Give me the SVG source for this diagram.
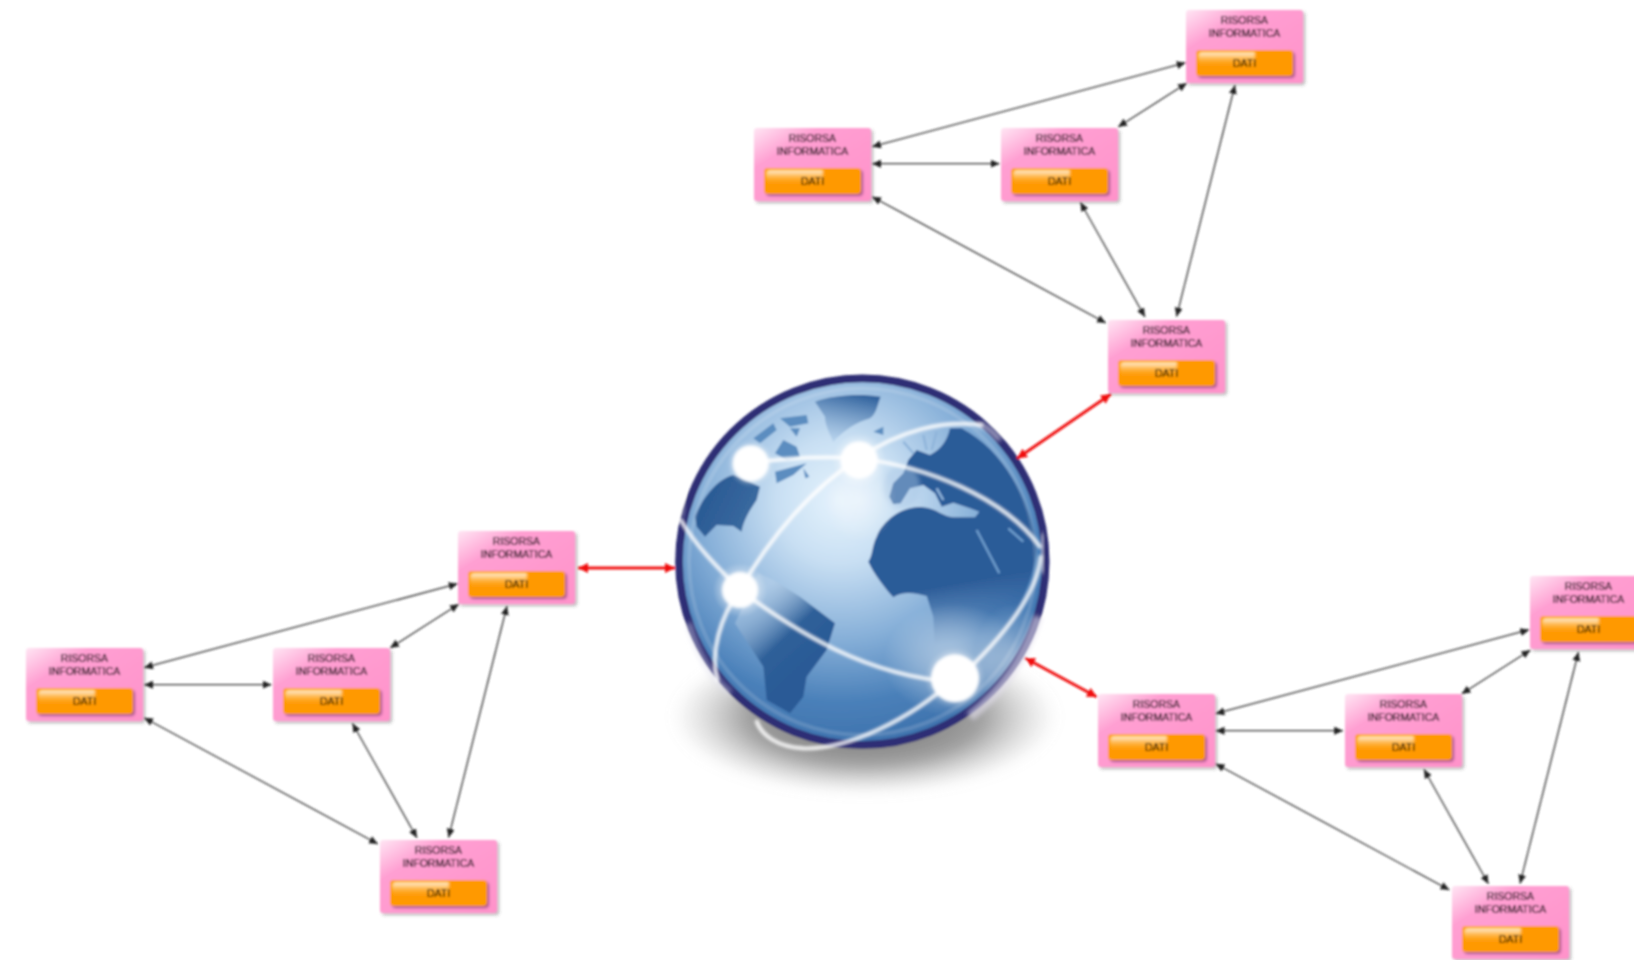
<svg xmlns="http://www.w3.org/2000/svg" width="1634" height="960" viewBox="0 0 1634 960">
<style>
.card{fill:url(#pink)}
.cardsh{fill:#555;opacity:.45;filter:url(#b2)}
.btn{fill:#ff9900}
.btnsh{fill:#6a2a5a;opacity:.55;filter:url(#b1)}
.gloss{fill:url(#glossg);filter:url(#b1)}
text{font-family:"Liberation Sans",Arial,sans-serif;font-size:10.5px;fill:#000;stroke:#000;stroke-width:.15;text-anchor:middle}
.c{stroke:#333;stroke-width:1.25;fill:none;marker-start:url(#ah);marker-end:url(#ah)}
.r{stroke:#f01010;stroke-width:3;fill:none;marker-start:url(#rh);marker-end:url(#rh)}
.link{fill:none;stroke:#fff;stroke-width:11;stroke-linecap:round;opacity:.93}
</style>
<defs>
<linearGradient id="pink" x1="0" y1="0" x2="1" y2="1"><stop offset="0" stop-color="#ffe6f4"/><stop offset=".28" stop-color="#ff9fd2"/><stop offset="1" stop-color="#ff92ca"/></linearGradient>
<linearGradient id="glossg" x1="0" y1="0" x2="0" y2="1"><stop offset="0" stop-color="#fff" stop-opacity=".9"/><stop offset="1" stop-color="#ff9900" stop-opacity=".1"/></linearGradient>
<radialGradient id="sea" gradientUnits="userSpaceOnUse" cx="540" cy="420" r="760"><stop offset="0" stop-color="#e6f3fd"/><stop offset=".25" stop-color="#c8dff3"/><stop offset=".55" stop-color="#86afd8"/><stop offset=".8" stop-color="#4a80b9"/><stop offset="1" stop-color="#3c70ab"/></radialGradient>
<linearGradient id="land" gradientUnits="userSpaceOnUse" x1="700" y1="300" x2="800" y2="860"><stop offset="0" stop-color="#2c5c98"/><stop offset=".7" stop-color="#2c5c98"/><stop offset="1" stop-color="#2c5c98" stop-opacity="0"/></linearGradient>
<linearGradient id="landNA" gradientUnits="userSpaceOnUse" x1="130" y1="420" x2="330" y2="520"><stop offset="0" stop-color="#2a5a94"/><stop offset=".65" stop-color="#39699f"/><stop offset="1" stop-color="#7ea9d5" stop-opacity=".3"/></linearGradient>
<linearGradient id="landGr" gradientUnits="userSpaceOnUse" x1="570" y1="100" x2="540" y2="240"><stop offset="0" stop-color="#34659f"/><stop offset="1" stop-color="#a4c4e4" stop-opacity=".6"/></linearGradient>
<linearGradient id="landSA" gradientUnits="userSpaceOnUse" x1="280" y1="720" x2="450" y2="900"><stop offset="0" stop-color="#c0d6ec" stop-opacity=".4"/><stop offset=".6" stop-color="#2f6099"/><stop offset="1" stop-color="#2a5a96"/></linearGradient>
<radialGradient id="shad" cx=".5" cy=".5" r=".5"><stop offset="0" stop-color="#666"/><stop offset=".6" stop-color="#a0a0a0"/><stop offset="1" stop-color="#c4c4c4" stop-opacity="0"/></radialGradient>
<radialGradient id="glow"><stop offset="0" stop-color="#fff" stop-opacity=".9"/><stop offset=".55" stop-color="#fff" stop-opacity=".45"/><stop offset="1" stop-color="#fff" stop-opacity="0"/></radialGradient>
<filter id="soft" filterUnits="userSpaceOnUse" x="0" y="0" width="1634" height="960"><feGaussianBlur stdDeviation="1"/></filter>
<filter id="b1" x="-20%" y="-30%" width="140%" height="160%"><feGaussianBlur stdDeviation="1"/></filter>
<filter id="b2" x="-20%" y="-30%" width="140%" height="160%"><feGaussianBlur stdDeviation="1.4"/></filter>
<filter id="b4" x="-30%" y="-30%" width="160%" height="160%"><feGaussianBlur stdDeviation="3.5"/></filter>
<filter id="b6" x="-30%" y="-30%" width="160%" height="160%"><feGaussianBlur stdDeviation="6"/></filter>
<filter id="b20" x="-30%" y="-50%" width="160%" height="200%"><feGaussianBlur stdDeviation="16"/></filter>
<clipPath id="ball"><circle cx="607" cy="605" r="548"/></clipPath>
<marker id="ah" markerUnits="userSpaceOnUse" markerWidth="11" markerHeight="9" refX="9" refY="4" orient="auto-start-reverse"><path d="M0,0L9,4L0,8z" fill="#222"/></marker>
<marker id="rh" markerUnits="userSpaceOnUse" markerWidth="12" markerHeight="12" refX="10" refY="5" orient="auto-start-reverse"><path d="M0,0L10,5L0,10z" fill="#f01010"/></marker>
</defs>
<rect width="1634" height="960" fill="#fff"/>
<g filter="url(#soft)">
<g id="globe" transform="translate(660,360) scale(.33333)">
<ellipse cx="615" cy="1070" rx="580" ry="235" fill="url(#shad)" filter="url(#b20)"/>
<circle cx="607" cy="605" r="548" fill="url(#sea)"/>
<g clip-path="url(#ball)">
<path fill="url(#land)" d="M1130,560C1112,420 1030,270 905,205L870,205C862,240 845,268 810,285L770,270L745,300L730,340L700,370L688,410L700,432L722,430L750,385L790,375L825,400L845,440L880,428L930,445L958,455L945,472L880,472C850,472 830,445 790,442C730,435 670,480 650,530C635,560 640,580 625,605C640,640 680,690 700,712C730,690 770,700 800,708L820,770L825,880L1000,880C1060,780 1125,660 1130,560Z"/>
<ellipse cx="725" cy="380" rx="55" ry="65" fill="#a8c6e4" opacity=".45" filter="url(#b6)"/>
<path d="M730,245L760,280M790,225L800,270M830,215L815,270M830,385L850,420" stroke="#8fb4da" stroke-width="7" fill="none"/>
<path d="M950,510L1018,640M1045,505L1090,545" stroke="#6d9dcc" stroke-width="7" fill="none"/>
<path fill="url(#landNA)" d="M105,470C125,420 165,360 220,345L300,380L290,420C270,450 250,480 245,515L220,498L170,495L135,530L110,500Z"/>
<path fill="url(#landGr)" d="M465,125C520,105 600,100 662,110C650,140 650,160 630,175C600,185 570,195 520,245C505,215 495,190 495,170Z"/>
<path fill="#5b8dc0" d="M345,280L370,240L410,260L420,290L380,300ZM360,175L440,165L445,190L390,200ZM390,205L420,205L410,230ZM345,335L440,310L400,345L350,370ZM430,325L448,350L436,355ZM640,215L670,200L670,225ZM280,235L340,190L350,210L300,250Z"/>
<path fill="url(#landSA)" d="M295,640L340,660L420,710L525,790L500,870L440,950L430,1010L390,1060L320,1020L310,920L225,790Z"/>
<ellipse cx="880" cy="900" rx="210" ry="170" fill="url(#glow)" opacity=".6"/>
<ellipse cx="1060" cy="900" rx="120" ry="170" fill="url(#glow)" opacity=".45"/>
<circle cx="607" cy="605" r="520" fill="none" stroke="#fff" stroke-width="12" opacity=".14"/>
</g>
<circle cx="607" cy="605" r="550" fill="none" stroke="#2f2f74" stroke-width="23"/>
<path d="M1135,770C1090,900 1030,990 930,1070" fill="none" stroke="#e4e0ee" stroke-width="30" opacity=".6" filter="url(#b6)"/>
<path d="M85,790C110,880 150,950 210,1000" fill="none" stroke="#e0e0ee" stroke-width="22" opacity=".4" filter="url(#b6)"/>
<path d="M62,330C82,340 72,400 62,470" fill="none" stroke="#fff" stroke-width="16" opacity=".4" filter="url(#b6)"/>
<path d="M950,195C990,200 1000,220 1020,240" fill="none" stroke="#fff" stroke-width="18" opacity=".5" filter="url(#b6)"/>
<path d="M1145,520L1150,640" fill="none" stroke="#e8eef6" stroke-width="20" opacity=".55" filter="url(#b6)"/>
<g class="links" filter="url(#b4)">
<path class="link" d="M272,310Q430,285 597,295"/>
<path class="link" d="M597,295C460,380 330,530 240,690"/>
<path class="link" d="M240,690C400,810 620,950 885,965"/>
<path class="link" d="M62,480C110,560 170,620 240,690"/>
<path class="link" d="M240,690C180,770 150,880 172,960"/>
<path class="link" d="M885,955C750,1080 560,1170 430,1165C350,1160 305,1125 290,1085" stroke-width="16"/>
<path class="link" d="M597,295C720,210 850,180 965,195"/>
<path class="link" d="M597,295C800,320 1030,410 1140,560"/>
<path class="link" d="M885,965C1000,860 1130,720 1142,590"/>
</g>
<ellipse cx="600" cy="420" rx="110" ry="130" fill="url(#glow)" opacity=".45"/>
<circle cx="272" cy="310" r="72" fill="url(#glow)"/><circle cx="272" cy="310" r="54" fill="#fff" filter="url(#b4)"/>
<circle cx="597" cy="300" r="82" fill="url(#glow)"/><circle cx="597" cy="300" r="56" fill="#fff" filter="url(#b4)"/>
<circle cx="240" cy="690" r="82" fill="url(#glow)"/><circle cx="240" cy="690" r="54" fill="#fff" filter="url(#b4)"/>
<circle cx="885" cy="955" r="92" fill="url(#glow)"/><circle cx="885" cy="955" r="72" fill="#fff" filter="url(#b4)"/>
</g>
<g id="connectors">
<line class="c" x1="872" y1="146.7" x2="1185.8" y2="62.7"/>
<line class="c" x1="872" y1="163.7" x2="999.7" y2="163.7"/>
<line class="c" x1="872" y1="196.7" x2="1106" y2="323"/>
<line class="c" x1="1118" y1="127" x2="1187" y2="83"/>
<line class="c" x1="1080.4" y1="202.3" x2="1145" y2="317"/>
<line class="c" x1="1235" y1="85" x2="1176.5" y2="316.7"/>
<line class="c" x1="144" y1="667.7" x2="457.8" y2="583.7"/>
<line class="c" x1="144" y1="684.7" x2="271.7" y2="684.7"/>
<line class="c" x1="144" y1="717.7" x2="378" y2="844"/>
<line class="c" x1="390" y1="648" x2="459" y2="604"/>
<line class="c" x1="352.4" y1="723.3" x2="417" y2="838"/>
<line class="c" x1="507" y1="606" x2="448.5" y2="837.7"/>
<line class="c" x1="1215.5" y1="713.7" x2="1529.3" y2="629.7"/>
<line class="c" x1="1215.5" y1="730.7" x2="1343.2" y2="730.7"/>
<line class="c" x1="1215.5" y1="763.7" x2="1449.5" y2="890"/>
<line class="c" x1="1461.5" y1="694" x2="1530.5" y2="650"/>
<line class="c" x1="1423.9" y1="769.3" x2="1488.5" y2="884"/>
<line class="c" x1="1578.5" y1="652" x2="1520" y2="883.7"/>
<line class="r" x1="1111" y1="394" x2="1017" y2="458.5"/>
<line class="r" x1="578" y1="568" x2="675" y2="568"/>
<line class="r" x1="1097" y1="697" x2="1025" y2="658"/>
</g>
<g id="n1" transform="translate(754,128)"><rect class="cardsh" x="2" y="2" width="117" height="73" rx="3"/><rect class="card" width="117" height="73" rx="3"/><rect class="btnsh" x="12" y="42" width="97" height="26" rx="4"/><rect class="btn" x="10" y="40" width="97" height="26" rx="4"/><path class="gloss" d="M16,42H69V57H16a4,4 0 0 1-4-4V46a4,4 0 0 1 4-4z"/><text x="58.5" y="14.3">RISORSA</text><text x="58.5" y="27.3">INFORMATICA</text><text x="58.5" y="56.5">DATI</text></g>
<g id="n2" transform="translate(1001,128)"><rect class="cardsh" x="2" y="2" width="117" height="73" rx="3"/><rect class="card" width="117" height="73" rx="3"/><rect class="btnsh" x="12" y="42" width="97" height="26" rx="4"/><rect class="btn" x="10" y="40" width="97" height="26" rx="4"/><path class="gloss" d="M16,42H69V57H16a4,4 0 0 1-4-4V46a4,4 0 0 1 4-4z"/><text x="58.5" y="14.3">RISORSA</text><text x="58.5" y="27.3">INFORMATICA</text><text x="58.5" y="56.5">DATI</text></g>
<g id="n3" transform="translate(1186,10)"><rect class="cardsh" x="2" y="2" width="117" height="73" rx="3"/><rect class="card" width="117" height="73" rx="3"/><rect class="btnsh" x="12" y="42" width="97" height="26" rx="4"/><rect class="btn" x="10" y="40" width="97" height="26" rx="4"/><path class="gloss" d="M16,42H69V57H16a4,4 0 0 1-4-4V46a4,4 0 0 1 4-4z"/><text x="58.5" y="14.3">RISORSA</text><text x="58.5" y="27.3">INFORMATICA</text><text x="58.5" y="56.5">DATI</text></g>
<g id="n4" transform="translate(1108,320)"><rect class="cardsh" x="2" y="2" width="117" height="73" rx="3"/><rect class="card" width="117" height="73" rx="3"/><rect class="btnsh" x="12" y="42" width="97" height="26" rx="4"/><rect class="btn" x="10" y="40" width="97" height="26" rx="4"/><path class="gloss" d="M16,42H69V57H16a4,4 0 0 1-4-4V46a4,4 0 0 1 4-4z"/><text x="58.5" y="14.3">RISORSA</text><text x="58.5" y="27.3">INFORMATICA</text><text x="58.5" y="56.5">DATI</text></g>
<g id="n5" transform="translate(26,648)"><rect class="cardsh" x="2" y="2" width="117" height="73" rx="3"/><rect class="card" width="117" height="73" rx="3"/><rect class="btnsh" x="12" y="42" width="97" height="26" rx="4"/><rect class="btn" x="10" y="40" width="97" height="26" rx="4"/><path class="gloss" d="M16,42H69V57H16a4,4 0 0 1-4-4V46a4,4 0 0 1 4-4z"/><text x="58.5" y="14.3">RISORSA</text><text x="58.5" y="27.3">INFORMATICA</text><text x="58.5" y="56.5">DATI</text></g>
<g id="n6" transform="translate(273,648)"><rect class="cardsh" x="2" y="2" width="117" height="73" rx="3"/><rect class="card" width="117" height="73" rx="3"/><rect class="btnsh" x="12" y="42" width="97" height="26" rx="4"/><rect class="btn" x="10" y="40" width="97" height="26" rx="4"/><path class="gloss" d="M16,42H69V57H16a4,4 0 0 1-4-4V46a4,4 0 0 1 4-4z"/><text x="58.5" y="14.3">RISORSA</text><text x="58.5" y="27.3">INFORMATICA</text><text x="58.5" y="56.5">DATI</text></g>
<g id="n7" transform="translate(458,531)"><rect class="cardsh" x="2" y="2" width="117" height="73" rx="3"/><rect class="card" width="117" height="73" rx="3"/><rect class="btnsh" x="12" y="42" width="97" height="26" rx="4"/><rect class="btn" x="10" y="40" width="97" height="26" rx="4"/><path class="gloss" d="M16,42H69V57H16a4,4 0 0 1-4-4V46a4,4 0 0 1 4-4z"/><text x="58.5" y="14.3">RISORSA</text><text x="58.5" y="27.3">INFORMATICA</text><text x="58.5" y="56.5">DATI</text></g>
<g id="n8" transform="translate(380,840)"><rect class="cardsh" x="2" y="2" width="117" height="73" rx="3"/><rect class="card" width="117" height="73" rx="3"/><rect class="btnsh" x="12" y="42" width="97" height="26" rx="4"/><rect class="btn" x="10" y="40" width="97" height="26" rx="4"/><path class="gloss" d="M16,42H69V57H16a4,4 0 0 1-4-4V46a4,4 0 0 1 4-4z"/><text x="58.5" y="14.3">RISORSA</text><text x="58.5" y="27.3">INFORMATICA</text><text x="58.5" y="56.5">DATI</text></g>
<g id="n9" transform="translate(1098,694)"><rect class="cardsh" x="2" y="2" width="117" height="73" rx="3"/><rect class="card" width="117" height="73" rx="3"/><rect class="btnsh" x="12" y="42" width="97" height="26" rx="4"/><rect class="btn" x="10" y="40" width="97" height="26" rx="4"/><path class="gloss" d="M16,42H69V57H16a4,4 0 0 1-4-4V46a4,4 0 0 1 4-4z"/><text x="58.5" y="14.3">RISORSA</text><text x="58.5" y="27.3">INFORMATICA</text><text x="58.5" y="56.5">DATI</text></g>
<g id="n10" transform="translate(1345,694)"><rect class="cardsh" x="2" y="2" width="117" height="73" rx="3"/><rect class="card" width="117" height="73" rx="3"/><rect class="btnsh" x="12" y="42" width="97" height="26" rx="4"/><rect class="btn" x="10" y="40" width="97" height="26" rx="4"/><path class="gloss" d="M16,42H69V57H16a4,4 0 0 1-4-4V46a4,4 0 0 1 4-4z"/><text x="58.5" y="14.3">RISORSA</text><text x="58.5" y="27.3">INFORMATICA</text><text x="58.5" y="56.5">DATI</text></g>
<g id="n11" transform="translate(1530,576)"><rect class="cardsh" x="2" y="2" width="117" height="73" rx="3"/><rect class="card" width="117" height="73" rx="3"/><rect class="btnsh" x="12" y="42" width="97" height="26" rx="4"/><rect class="btn" x="10" y="40" width="97" height="26" rx="4"/><path class="gloss" d="M16,42H69V57H16a4,4 0 0 1-4-4V46a4,4 0 0 1 4-4z"/><text x="58.5" y="14.3">RISORSA</text><text x="58.5" y="27.3">INFORMATICA</text><text x="58.5" y="56.5">DATI</text></g>
<g id="n12" transform="translate(1452,886)"><rect class="cardsh" x="2" y="2" width="117" height="73" rx="3"/><rect class="card" width="117" height="73" rx="3"/><rect class="btnsh" x="12" y="42" width="97" height="26" rx="4"/><rect class="btn" x="10" y="40" width="97" height="26" rx="4"/><path class="gloss" d="M16,42H69V57H16a4,4 0 0 1-4-4V46a4,4 0 0 1 4-4z"/><text x="58.5" y="14.3">RISORSA</text><text x="58.5" y="27.3">INFORMATICA</text><text x="58.5" y="56.5">DATI</text></g>
</g>
</svg>
